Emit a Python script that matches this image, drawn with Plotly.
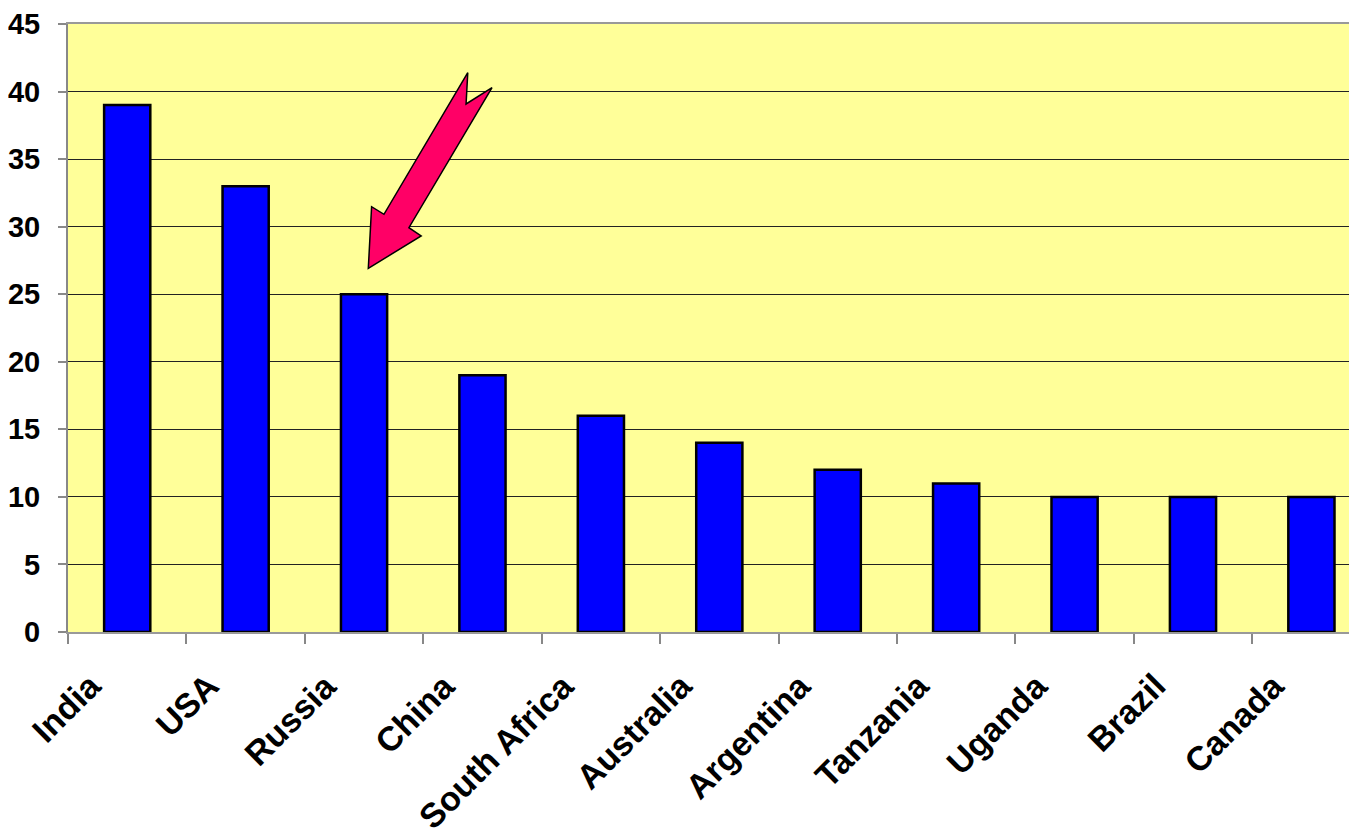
import plotly.graph_objects as go

countries = ["India", "USA", "Russia", "China", "South Africa", "Australia",
             "Argentina", "Tanzania", "Uganda", "Brazil", "Canada"]
values = [39, 33, 25, 19, 16, 14, 12, 11, 10, 10, 10]
y_ticks = [0, 5, 10, 15, 20, 25, 30, 35, 40, 45]

OFF = 8  # page body margin
W, H = 1349, 829
L, R, T, B = 57, 0, 16, 205
pw, ph = W - L - R, H - T - B
left_px, bottom_px = OFF + L, OFF + H - B


def px(x):
    return (x - left_px) / pw


def py(y):
    return (bottom_px - y) / ph


fig = go.Figure()
fig.add_trace(go.Bar(
    x=countries, y=values, width=0.39,
    marker=dict(color="#0000FF", line=dict(color="#000000", width=2.5)),
))

# arrow (pixel outline converted to paper coords)
arrow_px = [(465.7, 72.7), (381.7, 214.3), (369.3, 206.7), (366, 268.3),
            (419, 236), (406.7, 227.7), (490, 87.7), (464, 104)]
path = "M " + " L ".join(f"{px(x):.5f},{py(y):.5f}" for x, y in arrow_px) + " Z"
fig.add_shape(type="path", path=path, xref="paper", yref="paper",
              fillcolor="#FF0066", line=dict(color="#000000", width=1.5), layer="above")

FAM = "Liberation Sans, Arial, sans-serif"

# category labels as rotated annotations
for c in countries:
    fig.add_annotation(
        x=c, xref="x", y=py(663), yref="paper", text=c, showarrow=False,
        textangle=-45, xanchor="right", yanchor="top", xshift=-17,
        font=dict(family=FAM, size=34, color="#000000", weight="bold"),
    )

fig.update_layout(
    width=W, height=H,
    margin=dict(l=L, r=R, t=T, b=B, pad=0),
    paper_bgcolor="#FFFFFF",
    plot_bgcolor="#FFFF99",
    showlegend=False,
    xaxis=dict(
        type="category", range=[-0.5, 10.385],
        tickson="boundaries", ticks="outside", ticklen=10, tickwidth=2, tickcolor="#888888",
        showline=True, linecolor="#999999", linewidth=2, mirror=True,
        showgrid=False, showticklabels=False,
    ),
    yaxis=dict(
        range=[0, 45], tickvals=y_ticks, ticks="outside", ticklen=8, tickwidth=2, tickcolor="#888888",
        showline=True, linecolor="#888888", linewidth=2,
        showgrid=True, gridcolor="#222222", gridwidth=1.2,
        tickfont=dict(family=FAM, size=29, color="#000000", weight="bold"),
        ticklabelstandoff=12, zeroline=False,
    ),
)

fig.write_html("out.html")
